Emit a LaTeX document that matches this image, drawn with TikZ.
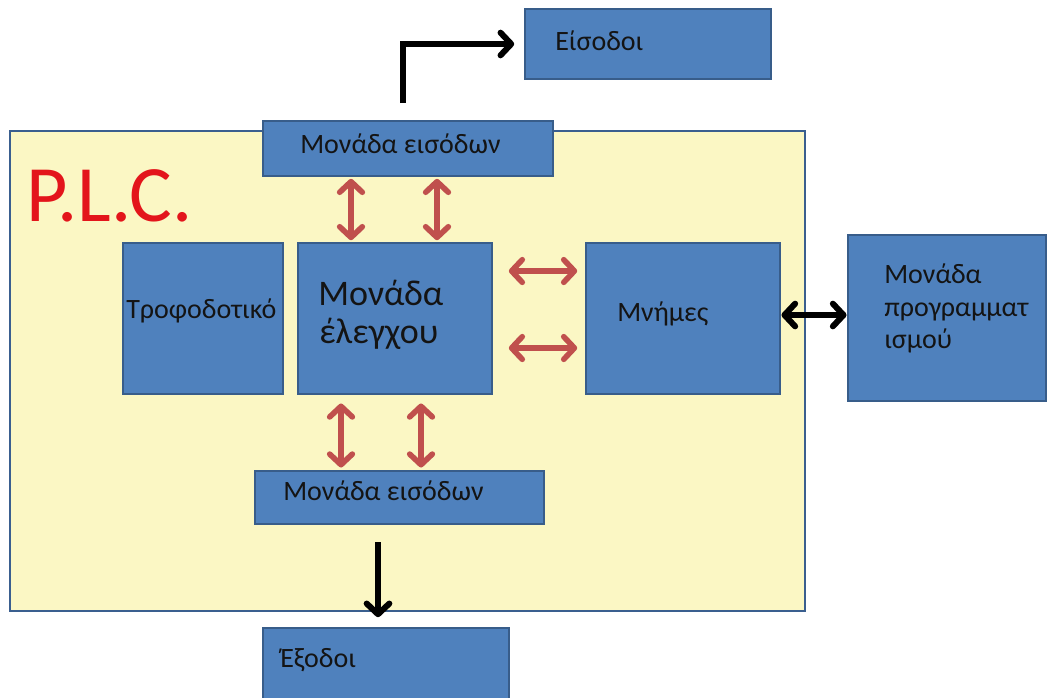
\documentclass[tikz,border=0pt]{standalone}
\usepackage{fontspec}
\setmainfont{Carlito}
\usetikzlibrary{arrows.meta,fit}
\definecolor{boxblue}{HTML}{4F81BD}
\definecolor{boxedge}{HTML}{385D8A}
\definecolor{plcyellow}{HTML}{FBF7C4}
\definecolor{plcedge}{HTML}{3A5F8F}
\definecolor{linkred}{HTML}{C0504D}
\definecolor{titlered}{HTML}{E3151B}
\definecolor{ink}{HTML}{141414}
\begin{document}
\begin{tikzpicture}[x=0.75pt,y=-0.75pt,
  block/.style={draw=boxedge, line width=1.2pt, fill=boxblue, inner sep=0pt},
  txt/.style={anchor=base west, inner sep=0pt, text=ink, font=\fontsize{21}{25}\selectfont},
  bigtxt/.style={txt, font=\fontsize{27}{32}\selectfont},
  barb/.tip={Straight Barb[length=8pt,width=17pt,line cap=round,line join=round]},
  redlink/.style={draw=linkred, line width=4.2pt, barb-barb},
  blackout/.style={draw=black, line width=4.5pt, -barb},
  blacklink/.style={draw=black, line width=4.5pt, barb-barb}
]
\useasboundingbox[fill=white] (0,0) rectangle (1048,697);

% the P.L.C. casing
\node[draw=plcedge, line width=1.6pt, fill=plcyellow, inner sep=0pt,
      fit={(10,131) (805,611)}] (plc) {};
\node[anchor=base west, inner sep=0pt, text=titlered,
      font=\fontsize{60}{62}\selectfont] (plctitle) at (26,221) {P.L.C.};

% blocks
\node[block, fit={(525,9) (771,79)}] (inputs) {};
\node[block, fit={(263,121) (553,176)}] (inTop) {};
\node[block, fit={(123,243) (283,394)}] (psu) {};
\node[block, fit={(298,243) (492,394)}] (ctl) {};
\node[block, fit={(586,243) (780,394)}] (mem) {};
\node[block, fit={(848,235) (1046,401)}] (prog) {};
\node[block, fit={(255,471) (544,524)}] (inBot) {};
\node[block, fit={(263,628) (509,699)}] (outputs) {};

% texts
\node[txt] (tInputs) at (555,50) {Είσοδοι};
\node[txt] (tInTop) at (300,153) {Μονάδα εισόδων};
\node[txt] (tPsu) at (126,318) {Τροφοδοτικό};
\node[bigtxt] (tCtlA) at (318,305) {Μονάδα};
\node[bigtxt] (tCtlB) at (319,343) {έλεγχου};
\node[txt] (tMem) at (617,321) {Μνήμες};
\node[txt] (tProgA) at (884,283) {Μονάδα};
\node[txt] (tProgB) at (884,316) {προγραμματ};
\node[txt] (tProgC) at (884,348) {ισμού};
\node[txt] (tInBot) at (283,500) {Μονάδα εισόδων};
\node[txt] (tOutputs) at (280,667) {Έξοδοι};

% connectors
\coordinate (upStart) at (403,103);
\draw[blackout, shorten >=7.5pt] (upStart) |- (inputs.west);

\draw[redlink, shorten <=1.5pt, shorten >=1.5pt] (inTop.south -| 351,0) -- (ctl.north -| 351,0);
\draw[redlink, shorten <=1.5pt, shorten >=1.5pt] (inTop.south -| 437,0) -- (ctl.north -| 437,0);

\draw[redlink, shorten <=12pt, shorten >=6pt] (ctl.east |- 0,271) -- (mem.west |- 0,271);
\draw[redlink, shorten <=12pt, shorten >=6pt] (ctl.east |- 0,348) -- (mem.west |- 0,348);

\draw[blacklink, shorten <=0.5pt, shorten >=0.5pt] (mem.east |- 0,315) -- (prog.west |- 0,315);

\draw[redlink, shorten <=6.5pt, shorten >=2pt] (ctl.south -| 341,0) -- (inBot.north -| 341,0);
\draw[redlink, shorten <=6.5pt, shorten >=2pt] (ctl.south -| 421,0) -- (inBot.north -| 421,0);

\coordinate (downStart) at (378,542);
\draw[blackout, shorten >=7.5pt] (downStart) -- (outputs.north -| downStart);
\end{tikzpicture}
\end{document}
